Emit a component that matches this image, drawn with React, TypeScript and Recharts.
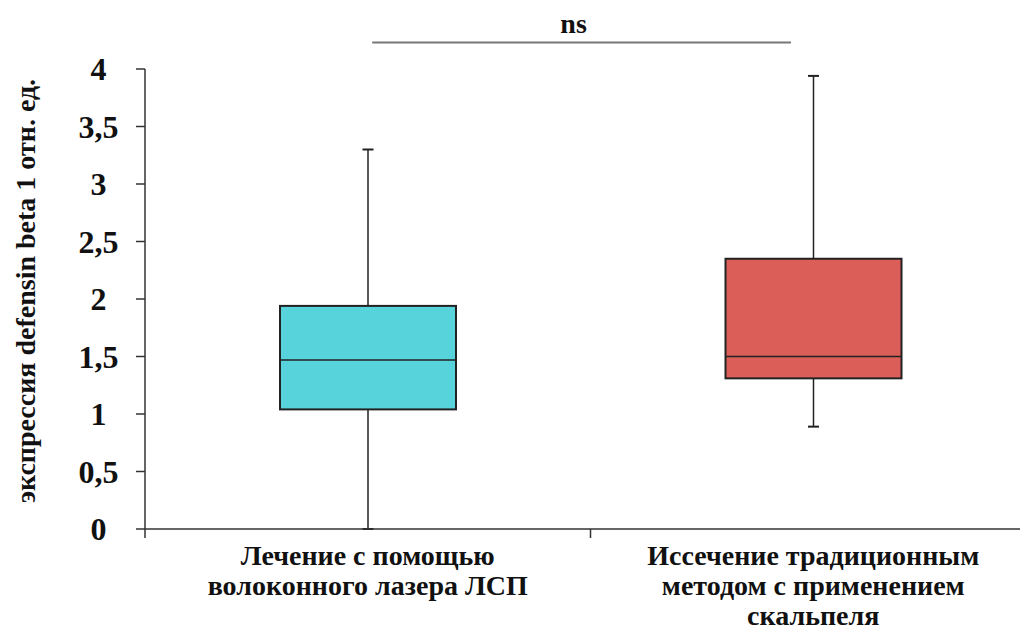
import React from 'react';
import { ComposedChart, Bar, XAxis, YAxis, ReferenceLine } from 'recharts';

const GROUPS = [
  ['Лечение с помощью', 'волоконного лазера ЛСП'],
  ['Иссечение традиционным', 'методом с применением', 'скальпеля'],
];
const POSITIONS = [0.5, 1.5];
const WHISKER_LOW = [0, 0.89];
const Q1 = [1.04, 1.31];
const MEDIAN = [1.47, 1.5];
const Q3 = [1.94, 2.35];
const WHISKER_HIGH = [3.3, 3.94];
const COLORS = ['#57D3DB', '#DB5F58'];

const Y_TICKS = [0, 0.5, 1, 1.5, 2, 2.5, 3, 3.5, 4];
const X_TICKS = [0, 0.5, 1, 1.5, 2];
const Y_LABEL = 'экспрессия defensin beta 1 отн. ед.';

// significance bracket
const BRACKET = { from: 0.51, to: 1.45, y: 4.23, text: 'ns' };

const FONT = 'Liberation Serif, DejaVu Serif, Times New Roman, serif';

const data = GROUPS.map((g, i) => ({
  x: POSITIONS[i],
  range: [WHISKER_LOW[i], WHISKER_HIGH[i]],
  low: WHISKER_LOW[i],
  q1: Q1[i],
  median: MEDIAN[i],
  q3: Q3[i],
  high: WHISKER_HIGH[i],
  color: COLORS[i],
}));

const txt = { fontFamily: FONT, fontWeight: 700 as const };

const BoxShape = (props: any) => {
  const { x, y, width, height, payload } = props;
  const top = Math.min(y, y + height);
  const h = Math.abs(height);
  const k = h / (payload.high - payload.low);
  const yOf = (v: number) => top + (payload.high - v) * k;
  const cx = x + width / 2;
  const cap = 5.5;
  return (
    <g>
      <line x1={cx} x2={cx} y1={yOf(payload.high)} y2={yOf(payload.q3)} stroke="#222" strokeWidth={1.5} />
      <line x1={cx} x2={cx} y1={yOf(payload.q1)} y2={yOf(payload.low)} stroke="#222" strokeWidth={1.5} />
      <line x1={cx - cap} x2={cx + cap} y1={yOf(payload.high)} y2={yOf(payload.high)} stroke="#222" strokeWidth={2} />
      <line x1={cx - cap} x2={cx + cap} y1={yOf(payload.low)} y2={yOf(payload.low)} stroke="#222" strokeWidth={2} />
      <rect
        x={x}
        y={yOf(payload.q3)}
        width={width}
        height={yOf(payload.q1) - yOf(payload.q3)}
        fill={payload.color}
        stroke="#222"
        strokeWidth={2}
      />
      <line x1={x} x2={x + width} y1={yOf(payload.median)} y2={yOf(payload.median)} stroke="#222" strokeWidth={1.5} />
    </g>
  );
};

const YTick = (props: any) => {
  const { x, y, payload } = props;
  return (
    <text x={x - 29.5} y={y} textAnchor="middle" dominantBaseline="central" style={txt} fontSize={32} fill="#111">
      {String(payload.value).replace('.', ',')}
    </text>
  );
};

const XTick = (props: any) => {
  const { x, y, payload } = props;
  const idx = POSITIONS.indexOf(payload.value);
  if (idx < 0) {
    return <line x1={x} x2={x} y1={y} y2={y + 9} stroke="#333" strokeWidth={1.5} />;
  }
  return (
    <text textAnchor="middle" style={txt} fontSize={28} fill="#111">
      {GROUPS[idx].map((line, j) => (
        <tspan key={j} x={x} y={y + 36 + j * 30}>
          {line}
        </tspan>
      ))}
    </text>
  );
};

const YLabel = () => (
  <text
    x={25}
    y={291}
    transform="rotate(-90, 25, 291)"
    textAnchor="middle"
    dominantBaseline="central"
    style={txt}
    fontSize={28}
    fill="#111"
  >
    {Y_LABEL}
  </text>
);

const NsLabel = (props: any) => {
  const { viewBox } = props;
  const cx = viewBox.x + viewBox.width / 2 - 8;
  return (
    <text x={cx} y={viewBox.y - 10} textAnchor="middle" style={txt} fontSize={28} fill="#111">
      {BRACKET.text}
    </text>
  );
};

export default function App() {
  return (
    <div style={{ position: 'absolute', left: 0, top: 0, width: 1020, height: 632, overflow: 'hidden', background: '#fff' }}>
      <ComposedChart width={1040} height={632} data={data} margin={{ top: 69, right: 4, bottom: 0, left: 0 }}>
        <XAxis
          dataKey="x"
          type="number"
          domain={[0, 2]}
          ticks={X_TICKS}
          interval={0}
          height={103}
          tickSize={0}
          tickMargin={0}
          tickLine={false}
          tick={<XTick />}
          axisLine={{ stroke: '#333', strokeWidth: 1.5 }}
        />
        <YAxis
          type="number"
          domain={[0, 4]}
          ticks={Y_TICKS}
          interval={0}
          width={145}
          tickSize={9}
          tickMargin={8}
          tickLine={{ stroke: '#333', strokeWidth: 1.5 }}
          axisLine={{ stroke: '#333', strokeWidth: 1.5 }}
          tick={<YTick />}
          label={<YLabel />}
        />
        <Bar dataKey="range" barSize={176} shape={<BoxShape />} isAnimationActive={false} />
        <ReferenceLine
          segment={[
            { x: BRACKET.from, y: BRACKET.y },
            { x: BRACKET.to, y: BRACKET.y },
          ]}
          ifOverflow="visible"
          stroke="#777"
          strokeWidth={2}
          label={<NsLabel />}
        />
      </ComposedChart>
    </div>
  );
}
